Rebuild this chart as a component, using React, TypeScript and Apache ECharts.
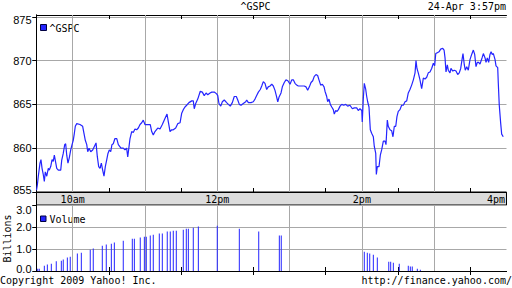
import React, { useEffect, useRef } from 'react';
import * as echarts from 'echarts';

// minutes after 9:30am, index level
const gspc: [number, number][] = [
  [0, 855.2], [0.7, 855.8], [1.5, 856.8], [2.9, 858.3], [3.7, 858.7], [4.6, 857.7], [5.6, 857.0], [6.5, 856.2],
  [7.3, 857.3], [8.5, 856.8], [9.8, 857.7], [10.6, 857.5], [11.8, 857.9], [12.9, 858.7], [13.9, 858.5], [14.8, 859.2],
  [15.6, 858.6], [16.8, 857.7], [18.1, 857.5], [20.1, 857.5], [20.9, 858.6], [22.2, 859.4], [23.4, 860.4], [24.2, 860.5],
  [25.1, 859.2], [26.1, 858.3], [27.2, 858.9], [28.4, 859.8], [29.5, 860.4], [30.5, 860.9], [31.4, 861.7], [32.2, 862.5],
  [33.4, 862.8], [36.1, 862.7], [38.3, 862.5], [39.4, 861.7], [40.5, 860.9], [41.7, 860.4], [42.5, 859.6], [43.6, 860.0],
  [45.0, 859.6], [46.6, 859.8], [48.0, 860.2], [49.4, 860.6], [50.5, 859.0], [51.6, 857.9], [52.7, 857.7], [53.8, 858.3],
  [54.9, 857.5], [56.0, 856.8], [57.1, 857.9], [58.3, 858.7], [59.3, 859.4], [60.4, 859.8], [61.6, 859.6], [62.6, 860.4],
  [63.7, 860.5], [65.1, 861.1], [66.6, 861.1], [67.9, 860.4], [70.1, 860.0], [72.0, 860.0], [73.4, 859.8], [74.8, 860.0],
  [75.7, 859.0], [76.8, 860.2], [77.6, 861.1], [79.0, 861.9], [80.3, 861.8], [81.7, 862.2], [83.1, 862.1], [84.5, 862.3],
  [85.9, 862.7], [87.3, 862.9], [88.6, 863.2], [90.0, 862.7], [92.8, 862.7], [94.4, 862.7], [95.6, 861.9], [96.9, 861.5],
  [98.3, 861.9], [100.6, 862.3], [102.5, 862.2], [104.4, 862.7], [106.6, 863.4], [108.3, 863.9], [109.4, 863.0], [110.8, 861.9],
  [112.2, 862.1], [113.5, 862.1], [115.5, 862.3], [117.2, 862.8], [119.1, 862.9], [120.5, 864.0], [121.8, 864.4], [123.2, 864.7],
  [124.6, 864.9], [126.5, 865.2], [128.8, 865.4], [130.1, 865.4], [130.9, 864.5], [132.1, 865.1], [133.8, 865.6], [135.9, 866.5],
  [137.6, 866.4], [139.2, 866.0], [140.7, 866.3], [142.1, 866.1], [144.0, 866.3], [145.4, 866.4], [147.5, 866.4], [149.5, 866.2],
  [150.4, 866.0], [151.4, 865.1], [152.9, 864.8], [154.2, 865.3], [155.8, 865.5], [157.8, 865.2], [159.2, 865.0], [160.8, 864.8],
  [162.5, 865.2], [164.1, 865.9], [165.8, 865.9], [167.0, 865.5], [168.3, 865.0], [169.7, 864.9], [171.6, 865.1], [173.6, 865.3],
  [174.4, 865.5], [175.8, 865.2], [178.0, 865.2], [179.9, 865.3], [181.3, 865.6], [183.0, 866.1], [184.1, 866.4], [185.7, 866.7],
  [186.9, 867.1], [188.2, 867.6], [189.6, 867.4], [191.0, 866.7], [192.3, 867.0], [193.8, 867.1], [195.2, 867.3], [196.5, 867.1],
  [197.9, 866.6], [199.0, 866.0], [200.2, 865.3], [201.2, 865.8], [202.9, 866.3], [204.0, 867.0], [205.6, 867.5], [207.0, 867.8],
  [208.6, 867.7], [210.4, 867.3], [211.8, 867.8], [213.1, 867.8], [214.5, 867.4], [215.9, 867.2], [217.2, 867.1], [220.1, 867.1],
  [222.2, 867.1], [223.6, 867.0], [225.0, 866.6], [226.4, 867.0], [227.8, 867.5], [229.2, 867.7], [230.5, 868.2], [231.9, 868.4],
  [233.3, 868.3], [234.4, 867.8], [235.8, 867.2], [237.2, 867.3], [238.6, 867.0], [239.4, 866.5], [240.8, 865.9], [241.6, 865.3],
  [242.7, 865.6], [243.8, 865.0], [245.0, 864.7], [246.3, 864.4], [247.1, 863.9], [248.3, 864.3], [249.4, 864.2], [250.5, 864.4],
  [251.9, 864.8], [253.3, 865.0], [254.9, 864.9], [256.6, 865.0], [258.2, 864.8], [260.1, 864.9], [262.1, 864.5], [263.7, 864.6],
  [265.7, 864.6], [267.0, 864.3], [268.4, 864.5], [269.9, 864.3], [270.3, 863.0], [271.2, 865.7], [272.0, 867.4], [273.2, 866.7],
  [274.0, 865.9], [274.8, 865.3], [275.9, 864.7], [277.0, 862.1], [278.1, 861.7], [279.5, 861.3], [280.3, 860.2], [281.5, 859.4],
  [282.0, 857.0], [282.8, 857.9], [284.2, 857.9], [285.3, 859.2], [286.4, 859.8], [287.8, 860.8], [289.2, 860.8], [290.0, 860.4],
  [291.1, 863.2], [291.9, 862.5], [293.3, 862.1], [294.7, 862.0], [295.8, 861.3], [296.9, 862.5], [298.1, 862.5], [299.1, 863.6],
  [300.2, 864.2], [301.6, 864.4], [303.0, 864.9], [304.4, 864.9], [305.8, 865.3], [307.2, 865.4], [308.5, 866.3], [309.9, 866.7],
  [311.3, 867.2], [312.7, 867.8], [314.1, 868.6], [314.9, 870.0], [315.7, 869.1], [316.8, 868.6], [318.2, 867.8], [319.6, 866.8],
  [321.0, 868.0], [322.4, 867.9], [323.8, 868.1], [325.1, 868.6], [326.5, 868.7], [327.9, 869.1], [329.3, 869.7], [330.4, 869.4],
  [331.3, 870.8], [332.6, 870.9], [334.0, 871.0], [335.4, 871.3], [337.1, 871.4], [338.2, 871.2], [339.0, 870.3], [339.8, 868.7],
  [340.9, 869.5], [341.7, 868.9], [343.1, 868.6], [343.9, 869.1], [345.4, 868.8], [346.7, 868.9], [348.1, 868.8], [349.5, 868.4],
  [350.8, 868.6], [352.0, 869.1], [353.1, 870.1], [353.9, 870.8], [355.0, 869.5], [355.8, 868.9], [357.0, 869.3], [358.3, 868.9],
  [359.7, 870.1], [361.1, 870.7], [362.5, 871.2], [363.6, 870.7], [364.7, 869.3], [365.8, 869.8], [366.9, 869.8], [368.0, 869.6],
  [369.7, 870.3], [370.8, 870.8], [372.2, 870.3], [373.0, 869.8], [374.1, 870.3], [375.2, 869.8], [376.3, 870.7], [377.2, 871.0],
  [378.2, 870.7], [379.1, 870.8], [380.5, 870.1], [381.3, 869.4], [382.7, 869.2], [383.2, 867.4], [384.0, 864.9], [385.2, 862.8],
  [386.0, 861.6], [387.3, 861.3],
];

// minutes after 9:30am, billions
const volume: [number, number][] = [
  [1.0, 0.1], [2.3, 0.1], [6.5, 0.24], [9.0, 0.29], [12.3, 0.33], [16.4, 0.44], [20.6, 0.47], [22.2, 0.52],
  [25.6, 0.61], [28.0, 0.65], [33.9, 0.79], [37.2, 0.83], [44.6, 0.97], [47.1, 1.02], [54.6, 1.15], [57.9, 1.2],
  [62.1, 1.24], [64.6, 1.29], [72.0, 1.38], [79.5, 1.47], [81.2, 1.47], [86.1, 1.52], [89.5, 1.56], [91.1, 1.56],
  [94.4, 1.61], [96.9, 1.65], [101.9, 1.7], [104.4, 1.7], [108.5, 1.79], [111.0, 1.79], [113.5, 1.83], [116.0, 1.83],
  [121.8, 1.88], [124.3, 1.92], [126.0, 1.92], [130.1, 1.97], [134.3, 2.02], [150.0, 2.06], [168.3, 1.92], [184.4, 1.79],
  [201.5, 1.61], [203.1, 1.61], [272.0, 0.88], [274.5, 0.83], [276.5, 0.79], [279.5, 0.74], [282.8, 0.61], [292.3, 0.42],
  [293.9, 0.42], [296.1, 0.38], [301.0, 0.33], [308.5, 0.24], [310.2, 0.2], [311.8, 0.2], [316.0, 0.1], [318.5, 0.06],
];

const priceTicks = [855, 860, 865, 870, 875];
const volumeTicks = [0, 1, 2, 3];
const timeLabelMinutes = [30, 150, 270, 390];
const timeLabelTexts = ['10am', '12pm', '2pm', '4pm'];
const hourMinutes = [30, 90, 150, 210, 270, 330];
const halfHourMinutes = [60, 120, 180, 240, 300, 360];

const BLUE = '#2424ff';
const GRID = '#a8a8a8';
const MONO = 'DejaVu Sans Mono';
const SANS = 'Liberation Sans';

export default function App() {
  const ref = useRef<HTMLDivElement>(null);
  useEffect(() => {
    const chart = echarts.init(ref.current!, null, { renderer: 'svg' });
    const axisLine = { show: true, lineStyle: { color: '#000', width: 1 } };
    const xTicks = { show: true, inside: true, length: 4, customValues: halfHourMinutes, lineStyle: { color: '#000', width: 1 } };
    const xCommon = { type: 'value', min: 0, max: 390, interval: 30, splitLine: { show: false }, axisLine, axisTick: xTicks };
    const monoStyle = { fontFamily: MONO, fontSize: 10, color: '#000' };
    const sansStyle = { fontFamily: SANS, fontSize: 11, color: '#000' };
    const gridMark = {
      silent: true,
      symbol: 'none',
      z: 1,
      label: { show: false },
      emphasis: { disabled: true },
      lineStyle: { color: GRID, type: 'solid', width: 1 },
      data: hourMinutes.map((m) => ({ xAxis: m })),
    };
    const option: any = {
      animation: false,
      backgroundColor: '#ffffff',
      grid: [
        { left: 36.5, top: 15, width: 470, height: 177, containLabel: false, outerBoundsMode: 'none' },
        { left: 36.5, top: 205, width: 470, height: 66, containLabel: false, outerBoundsMode: 'none' },
      ],
      xAxis: [
        {
          ...xCommon, gridIndex: 0, position: 'bottom',
          axisLabel: {
            show: true, ...monoStyle, margin: 1, lineHeight: 12, customValues: timeLabelMinutes,
            formatter: (v: number) => {
              const i = timeLabelMinutes.indexOf(v);
              if (i < 0) return '';
              return i === timeLabelTexts.length - 1 ? `{r|${timeLabelTexts[i]}}` : timeLabelTexts[i];
            },
            rich: { r: { ...monoStyle, lineHeight: 12, padding: [0, 21, 0, 0] } },
          },
        },
        { ...xCommon, gridIndex: 0, position: 'top', axisLabel: { show: false } },
        { ...xCommon, gridIndex: 1, position: 'bottom', axisLabel: { show: false } },
        { ...xCommon, gridIndex: 1, position: 'top', axisLabel: { show: false } },
      ],
      yAxis: [
        {
          type: 'value', gridIndex: 0, position: 'left', min: 855, max: 875.2, interval: 5,
          axisLine,
          axisTick: { show: true, inside: false, length: 4, customValues: priceTicks, lineStyle: { color: '#000' } },
          axisLabel: {
            show: true, ...sansStyle, margin: 5, customValues: priceTicks,
            formatter: (v: number) => {
              if (Math.abs(v % 5) > 1e-6) return '';
              if (v === 875) return '{t|875}';
              if (v === 855) return '{b|855}';
              return String(v);
            },
            rich: {
              t: { ...sansStyle, padding: [6, 0, 0, 0] },
              b: { ...sansStyle, padding: [0, 0, 4, 0] },
            },
          },
          splitLine: { show: true, lineStyle: { color: GRID, width: 1 } },
        },
        {
          type: 'value', gridIndex: 0, position: 'right', min: 855, max: 875.2, interval: 5,
          axisLine,
          axisTick: { show: true, inside: true, length: 4, customValues: priceTicks, lineStyle: { color: '#000' } },
          axisLabel: { show: false },
          splitLine: { show: false },
        },
        {
          type: 'value', gridIndex: 1, position: 'left', min: 0, max: 3, interval: 1,
          axisLine,
          axisTick: { show: true, inside: false, length: 4, customValues: volumeTicks, lineStyle: { color: '#000' } },
          axisLabel: {
            show: true, ...sansStyle, margin: 5, customValues: volumeTicks,
            formatter: (v: number) => {
              const s = v.toFixed(1);
              if (v === 3) return `{t|${s}}`;
              if (v === 0) return `{b|${s}}`;
              return s;
            },
            rich: {
              t: { ...sansStyle, padding: [9, 0, 0, 0] },
              b: { ...sansStyle, padding: [0, 0, 4, 0] },
            },
          },
          splitLine: { show: true, lineStyle: { color: GRID, width: 1 } },
        },
        {
          type: 'value', gridIndex: 1, position: 'right', min: 0, max: 3, interval: 1,
          axisLine,
          axisTick: { show: true, inside: true, length: 4, customValues: volumeTicks, lineStyle: { color: '#000' } },
          axisLabel: { show: false },
          splitLine: { show: false },
        },
      ],
      series: [
        { type: 'line', xAxisIndex: 0, yAxisIndex: 0, data: [], silent: true, markLine: gridMark },
        {
          type: 'line', name: '^GSPC', xAxisIndex: 0, yAxisIndex: 0, data: gspc,
          showSymbol: false, symbol: 'none', z: 3,
          lineStyle: { color: BLUE, width: 1.2 },
        },
        { type: 'line', xAxisIndex: 2, yAxisIndex: 2, data: [], silent: true, markLine: gridMark },
        {
          type: 'bar', name: 'Volume', xAxisIndex: 2, yAxisIndex: 2, data: volume,
          barWidth: 1, z: 3, itemStyle: { color: BLUE },
        },
      ],
      graphic: [
        {
          type: 'rect', z: -1, silent: true,
          shape: { x: 36.5, y: 192, width: 470, height: 13 },
          style: { fill: '#dcdcdc', stroke: '#000', lineWidth: 1 },
        },
        {
          type: 'text', x: 255.5, y: 6.5, silent: true,
          style: { text: '^GSPC', font: `10px "${MONO}"`, fill: '#000', align: 'center', verticalAlign: 'middle', textAlign: 'center', textVerticalAlign: 'middle' },
        },
        {
          type: 'text', x: 506, y: 6.5, silent: true,
          style: { text: '24-Apr 3:57pm', font: `10px "${MONO}"`, fill: '#000', align: 'right', verticalAlign: 'middle', textAlign: 'right', textVerticalAlign: 'middle' },
        },
        {
          type: 'text', x: 0, y: 280.5, silent: true,
          style: { text: 'Copyright 2009 Yahoo! Inc.', font: `10px "${MONO}"`, fill: '#000', align: 'left', verticalAlign: 'middle', textAlign: 'left', textVerticalAlign: 'middle' },
        },
        {
          type: 'text', x: 512, y: 280.5, silent: true,
          style: { text: 'http://finance.yahoo.com/', font: `10px "${MONO}"`, fill: '#000', align: 'right', verticalAlign: 'middle', textAlign: 'right', textVerticalAlign: 'middle' },
        },
        {
          type: 'text', x: 7.5, y: 238.5, rotation: Math.PI / 2, silent: true,
          style: { text: 'Billions', font: `10px "${MONO}"`, fill: '#000', align: 'center', verticalAlign: 'middle', textAlign: 'center', textVerticalAlign: 'middle' },
        },
        {
          type: 'rect', silent: true,
          shape: { x: 40.5, y: 24.5, width: 6, height: 6 },
          style: { fill: BLUE, stroke: '#000040', lineWidth: 1 },
        },
        {
          type: 'text', x: 49.5, y: 28.5, silent: true,
          style: { text: '^GSPC', font: `10px "${MONO}"`, fill: '#000', align: 'left', verticalAlign: 'middle', textAlign: 'left', textVerticalAlign: 'middle' },
        },
        {
          type: 'rect', silent: true,
          shape: { x: 40.5, y: 216, width: 5.5, height: 5.5 },
          style: { fill: BLUE, stroke: '#000040', lineWidth: 1 },
        },
        {
          type: 'text', x: 49.5, y: 219.5, silent: true,
          style: { text: 'Volume', font: `10px "${MONO}"`, fill: '#000', align: 'left', verticalAlign: 'middle', textAlign: 'left', textVerticalAlign: 'middle' },
        },
      ],
    };
    chart.setOption(option);
    return () => chart.dispose();
  }, []);
  return <div ref={ref} style={{ position: 'absolute', left: 0, top: 0, width: 512, height: 288 }} />;
}
